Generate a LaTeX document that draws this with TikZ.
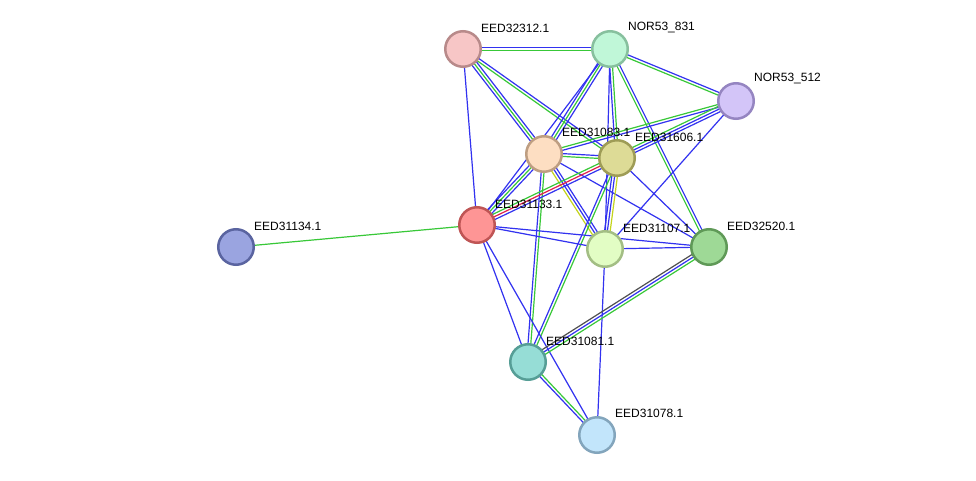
\documentclass[tikz,border=0pt]{standalone}
\usepackage{fontspec}
\setmainfont{Liberation Sans}
\usetikzlibrary{calc,backgrounds}
\definecolor{eb}{HTML}{3232F0}
\definecolor{eg}{HTML}{38C838}
\definecolor{ey}{HTML}{C4D41C}
\definecolor{er}{HTML}{E0204A}
\definecolor{ek}{HTML}{505050}
\newcommand\edg[3]{%
  \foreach \ec/\eo in {#3} {%
    \draw[edge,\ec] ($(#1)!\eo pt!90:(#2)$) -- ($(#2)!\eo pt!-90:(#1)$);
  }}
\begin{document}
\begin{tikzpicture}[x=1pt,y=-1pt,
  prot/.style={circle,line width=2.5pt,minimum size=35.5pt,inner sep=0pt},
  lbl/.style={anchor=west,inner sep=0pt,font=\fontsize{12}{14}\selectfont},
  edge/.style={line width=1.2pt}]
\useasboundingbox (0,0) rectangle (976,481);
% nodes
\node[prot,fill={rgb,255:red,247;green,198;blue,198},draw={rgb,255:red,184;green,138;blue,138}] (A) at (463,49) {};
\node[prot,fill={rgb,255:red,192;green,247;blue,216},draw={rgb,255:red,135;green,192;blue,158}] (B) at (610,49) {};
\node[prot,fill={rgb,255:red,211;green,197;blue,248},draw={rgb,255:red,149;green,133;blue,193}] (C) at (736,101) {};
\node[prot,fill={rgb,255:red,253;green,222;blue,194},draw={rgb,255:red,190;green,158;blue,130}] (D) at (544,154) {};
\node[prot,fill={rgb,255:red,221;green,219;blue,150},draw={rgb,255:red,158;green,156;blue,86}] (E) at (617,158) {};
\node[prot,fill={rgb,255:red,254;green,149;blue,149},draw={rgb,255:red,191;green,85;blue,85}] (F) at (477,225) {};
\node[prot,fill={rgb,255:red,154;green,164;blue,224},draw={rgb,255:red,90;green,100;blue,160}] (G) at (236,247) {};
\node[prot,fill={rgb,255:red,226;green,253;blue,196},draw={rgb,255:red,163;green,190;blue,132}] (H) at (605,249) {};
\node[prot,fill={rgb,255:red,158;green,217;blue,150},draw={rgb,255:red,95;green,153;blue,87}] (I) at (709,247) {};
\node[prot,fill={rgb,255:red,150;green,221;blue,214},draw={rgb,255:red,86;green,158;blue,150}] (J) at (528,362) {};
\node[prot,fill={rgb,255:red,194;green,229;blue,251},draw={rgb,255:red,131;green,165;blue,188}] (K) at (597,435) {};
% labels
\node[lbl] (lA) at (481,28) {EED32312.1};
\node[lbl] (lB) at (628,28) {NOR53\_831};
\node[lbl] (lC) at (754,79) {NOR53\_512};
\node[lbl] (lD) at (562,132) {EED31083.1};
\node[lbl] (lE) at (635,137) {EED31606.1};
\node[lbl] (lF) at (495,204) {EED31133.1};
\node[lbl] (lG) at (254,226) {EED31134.1};
\node[lbl] (lH) at (623,228) {EED31107.1};
\node[lbl] (lI) at (727,226) {EED32520.1};
\node[lbl] (lJ) at (546,341) {EED31081.1};
\node[lbl] (lK) at (615,413) {EED31078.1};
\begin{pgfonlayer}{background}
\fill[white] (0,0) rectangle (976,481);
\edg{A}{B}{eg/-1.4,eb/1.4}
\edg{A}{F}{eb/0}
\edg{A}{D}{eb/-2.8,eg/0,eb/2.8}
\edg{A}{E}{eg/-1.4,eb/1.4}
\edg{B}{C}{eg/-1.4,eb/1.4}
\edg{B}{D}{eb/-2.8,eg/0,eb/2.8}
\edg{B}{E}{eb/-1.4,eg/1.4}
\edg{B}{H}{eb/0}
\edg{B}{I}{eg/-1.4,eb/1.4}
\edg{B}{F}{eb/0}
\edg{C}{D}{eg/-1.4,eb/1.4}
\edg{C}{E}{eg/-2.8,eb/0,eb/2.8}
\edg{C}{H}{eb/0}
\edg{D}{E}{eg/-1.4,eb/1.4}
\edg{D}{F}{eb/-2.8,eg/0,eb/2.8}
\edg{D}{H}{ey/-2.8,eb/0,eb/2.8}
\edg{D}{I}{eb/0}
\edg{D}{J}{eb/-1.4,eg/1.4}
\edg{E}{H}{eb/-2.8,eb/0,ey/2.8}
\edg{E}{I}{eb/0}
\edg{E}{J}{eb/-1.4,eg/1.4}
\edg{E}{F}{eg/-2.8,er/0,eb/2.8}
\edg{F}{G}{eg/0}
\edg{F}{H}{eb/0}
\edg{F}{I}{eb/0}
\edg{F}{J}{eb/0}
\edg{F}{K}{eb/0}
\edg{H}{I}{eb/0}
\edg{H}{K}{eb/0}
\edg{I}{J}{ek/-2.8,eb/0,eg/2.8}
\edg{J}{K}{eb/-1.4,eg/1.4}
\end{pgfonlayer}
\end{tikzpicture}
\end{document}
